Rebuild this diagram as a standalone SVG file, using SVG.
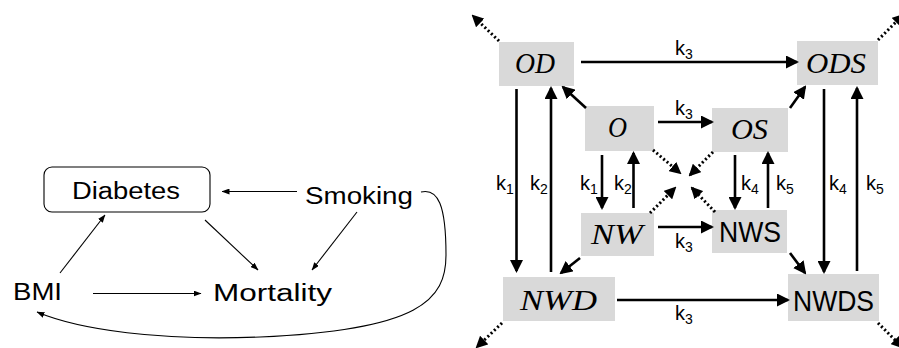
<svg xmlns="http://www.w3.org/2000/svg" width="899" height="348" viewBox="0 0 899 348">
<style>
.bg{fill:#ffffff}
.lbl{font-family:"Liberation Sans",Arial,sans-serif;font-size:23px;fill:#000}
.box{fill:#d9d9d9}
.mi{font-family:"Liberation Serif","Times New Roman",serif;font-style:italic;font-size:30px;fill:#000}
.ms{font-family:"Liberation Sans",Arial,sans-serif;font-size:30px;fill:#000}
.k{font-family:"Liberation Sans",Arial,sans-serif;font-size:20px;fill:#000}
.sub{font-size:14px}
.thin{fill:none;stroke:#000;stroke-width:1.1;marker-end:url(#ah)}
.solid{fill:none;stroke:#000;stroke-width:2.6;marker-end:url(#AH)}
.dot{fill:none;stroke:#000;stroke-width:3;stroke-dasharray:2 2.5;marker-end:url(#DH)}
</style>
<defs>
<marker id="ah" viewBox="0 0 8 6" refX="7.5" refY="3" markerWidth="8" markerHeight="6" markerUnits="userSpaceOnUse" orient="auto"><path d="M0,0 L8,3 L0,6 z" fill="#000"/></marker>
<marker id="AH" viewBox="0 0 13 13" refX="11" refY="6.5" markerWidth="13" markerHeight="13" markerUnits="userSpaceOnUse" orient="auto"><path d="M0,0 L13,6.5 L0,13 z" fill="#000"/></marker>
<marker id="DH" viewBox="0 0 12 12" refX="10" refY="6" markerWidth="12" markerHeight="12" markerUnits="userSpaceOnUse" orient="auto"><path d="M0,0 L12,6 L0,12 z" fill="#000"/></marker>
</defs>
<rect class="bg" x="0" y="0" width="899" height="348"/>

<!-- Left diagram -->
<g id="diabetes">
<rect x="44" y="167" width="166" height="45" rx="8" ry="8" fill="#fff" stroke="#000" stroke-width="1.1"/>
<text class="lbl" x="72" y="199" font-size="24" textLength="108" lengthAdjust="spacingAndGlyphs">Diabetes</text>
</g>
<g id="smoking"><text class="lbl" x="305" y="204" textLength="108" lengthAdjust="spacingAndGlyphs">Smoking</text></g>
<g id="bmi"><text class="lbl" x="13" y="300" textLength="49" lengthAdjust="spacingAndGlyphs">BMI</text></g>
<g id="mortality"><text class="lbl" x="213" y="301" textLength="119" lengthAdjust="spacingAndGlyphs">Mortality</text></g>

<g id="left-connectors">
<path class="thin" d="M297,191.5 L222,191.5"/>
<path class="thin" d="M60,273 L105,215"/>
<path class="thin" d="M205,220 L258,270"/>
<path class="thin" d="M357,212 L312,270"/>
<path class="thin" d="M93,293.5 L201,293.5"/>
<path class="thin" d="M421,192 C438,188 446,205 446,255 C446,300 420,330 260,337 C160,341 80,330 37,312"/>
</g>

<!-- Right diagram nodes -->
<g id="OD"><rect class="box" x="499" y="42" width="75" height="44"/><text class="mi" x="515" y="73" textLength="40" lengthAdjust="spacingAndGlyphs">OD</text></g>
<g id="ODS"><rect class="box" x="797" y="41" width="81" height="44"/><text class="mi" x="806" y="73" textLength="60" lengthAdjust="spacingAndGlyphs">ODS</text></g>
<g id="O"><rect class="box" x="585" y="106" width="69" height="45"/><text class="mi" x="608" y="137" textLength="19" lengthAdjust="spacingAndGlyphs">O</text></g>
<g id="OS"><rect class="box" x="712" y="108" width="76" height="44"/><text class="mi" x="731" y="139" textLength="37" lengthAdjust="spacingAndGlyphs">OS</text></g>
<g id="NW"><rect class="box" x="581" y="213" width="73" height="43"/><text class="mi" x="591" y="244" textLength="52" lengthAdjust="spacingAndGlyphs">NW</text></g>
<g id="NWS"><rect class="box" x="712" y="210" width="75" height="43"/><text class="ms" x="719" y="242" textLength="62" lengthAdjust="spacingAndGlyphs">NWS</text></g>
<g id="NWD"><rect class="box" x="503" y="277" width="112" height="44"/><text class="mi" x="520" y="310" textLength="77" lengthAdjust="spacingAndGlyphs">NWD</text></g>
<g id="NWDS"><rect class="box" x="788" y="274" width="91" height="47"/><text class="ms" x="793" y="311" textLength="81" lengthAdjust="spacingAndGlyphs">NWDS</text></g>

<!-- Right diagram connectors -->
<g id="connectors">
<path class="solid" d="M581,62 L797,62"/>
<path class="solid" d="M658,122 L712,122"/>
<path class="solid" d="M658,227 L712,227"/>
<path class="solid" d="M617,300 L788,300"/>

<path class="solid" d="M516.5,89 L516.5,271"/>
<path class="solid" d="M551,272 L551,88"/>
<path class="solid" d="M824,89 L824,272"/>
<path class="solid" d="M857,271 L857,88"/>

<path class="solid" d="M602,155 L602,208"/>
<path class="solid" d="M633.5,208 L633.5,153"/>
<path class="solid" d="M735,155 L735,208"/>
<path class="solid" d="M768,208 L768,153"/>

<path class="solid" d="M586,108 L563,87"/>
<path class="solid" d="M790,108 L805,87"/>
<path class="solid" d="M580,258 L561,273"/>
<path class="solid" d="M790,253 L805,273"/>

<path class="dot" d="M499,41 L473,16"/>
<path class="dot" d="M878,40 L903,15"/>
<path class="dot" d="M502,323 L477,347"/>
<path class="dot" d="M878,323 L902,347"/>

<path class="dot" d="M653,150 L680,173"/>
<path class="dot" d="M713,152 L690,175"/>
<path class="dot" d="M650,213 L675,188"/>
<path class="dot" d="M715,212 L692,188"/>
</g>

<!-- Rate labels -->
<g id="rates">
<text class="k" x="675" y="55">k<tspan class="sub" dy="4">3</tspan></text>
<text class="k" x="675" y="115">k<tspan class="sub" dy="4">3</tspan></text>
<text class="k" x="675" y="248">k<tspan class="sub" dy="4">3</tspan></text>
<text class="k" x="675" y="320">k<tspan class="sub" dy="4">3</tspan></text>
<text class="k" x="496" y="190">k<tspan class="sub" dy="4">1</tspan></text>
<text class="k" x="530" y="190">k<tspan class="sub" dy="4">2</tspan></text>
<text class="k" x="580" y="190">k<tspan class="sub" dy="4">1</tspan></text>
<text class="k" x="614" y="190">k<tspan class="sub" dy="4">2</tspan></text>
<text class="k" x="741" y="190">k<tspan class="sub" dy="4">4</tspan></text>
<text class="k" x="776" y="190">k<tspan class="sub" dy="4">5</tspan></text>
<text class="k" x="829" y="190">k<tspan class="sub" dy="4">4</tspan></text>
<text class="k" x="866" y="190">k<tspan class="sub" dy="4">5</tspan></text>
</g>
</svg>
